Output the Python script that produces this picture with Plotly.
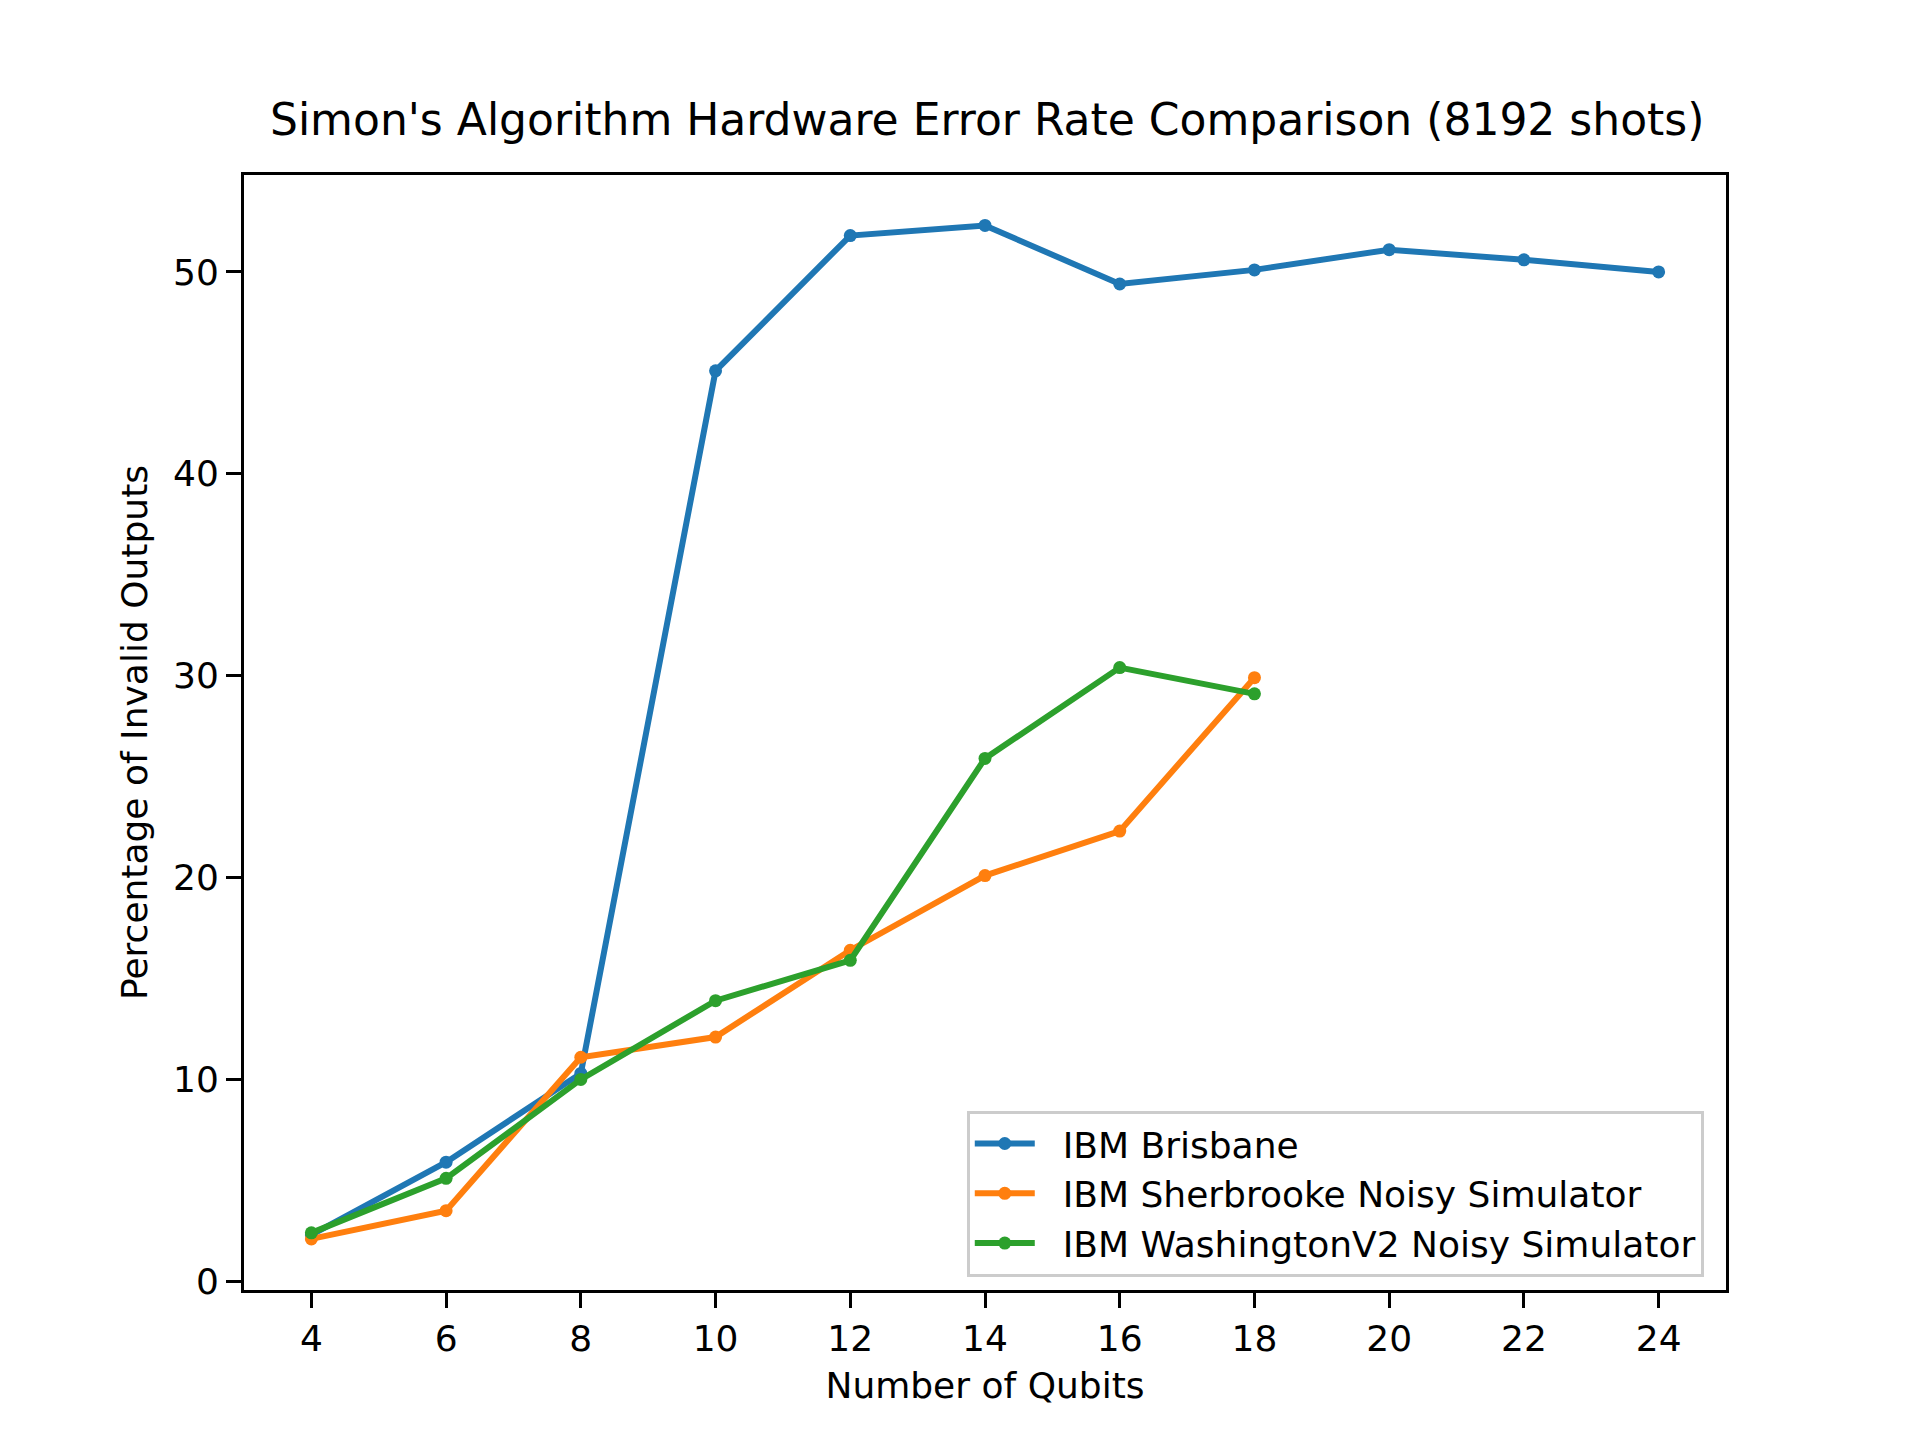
import plotly.graph_objects as go

brisbane_x = [4, 6, 8, 10, 12, 14, 16, 18, 20, 22, 24]
brisbane_y = [2.3, 5.9, 10.3, 45.1, 51.8, 52.3, 49.4, 50.1, 51.1, 50.6, 50.0]
sherbrooke_x = [4, 6, 8, 10, 12, 14, 16, 18]
sherbrooke_y = [2.1, 3.5, 11.1, 12.1, 16.4, 20.1, 22.3, 29.9]
washington_x = [4, 6, 8, 10, 12, 14, 16, 18]
washington_y = [2.4, 5.1, 10.0, 13.9, 15.9, 25.9, 30.4, 29.1]

series = [
    ("IBM Brisbane", brisbane_x, brisbane_y, "#1f77b4"),
    ("IBM Sherbrooke Noisy Simulator", sherbrooke_x, sherbrooke_y, "#ff7f0e"),
    ("IBM WashingtonV2 Noisy Simulator", washington_x, washington_y, "#2ca02c"),
]

fig = go.Figure()
for name, xs, ys, c in series:
    fig.add_trace(go.Scatter(x=xs, y=ys, mode="lines+markers", name="  " + name,
                             line=dict(color=c, width=6),
                             marker=dict(color=c, size=13)))

axis = dict(showgrid=False, zeroline=False, showline=True, linecolor="black",
            linewidth=3, mirror=True, ticks="outside", ticklen=15, tickwidth=3,
            tickcolor="black", tickfont=dict(size=36, color="black"))

fig.update_layout(
    width=1920, height=1440,
    paper_bgcolor="white", plot_bgcolor="white",
    font=dict(family="DejaVu Sans", color="black"),
    margin=dict(l=236, r=202, t=167, b=158),
    title=dict(text="Simon's Algorithm Hardware Error Rate Comparison (8192 shots)",
               x=0.51, xanchor="center", y=0.912, yanchor="bottom",
               font=dict(size=44)),
    xaxis=dict(axis, range=[3, 25], tickvals=list(range(4, 25, 2)),
               title=dict(text="Number of Qubits", font=dict(size=36))),
    yaxis=dict(axis, range=[-0.43, 54.8], tickvals=[0, 10, 20, 30, 40, 50],
               title=dict(text="Percentage of Invalid Outputs", font=dict(size=36))),
    legend=dict(x=0.985, y=0.012, xanchor="right", yanchor="bottom",
                bgcolor="rgba(255,255,255,0.8)", bordercolor="#cccccc",
                borderwidth=3, font=dict(size=36), tracegroupgap=8,
                itemwidth=60),
)

fig.write_html("out.html")
